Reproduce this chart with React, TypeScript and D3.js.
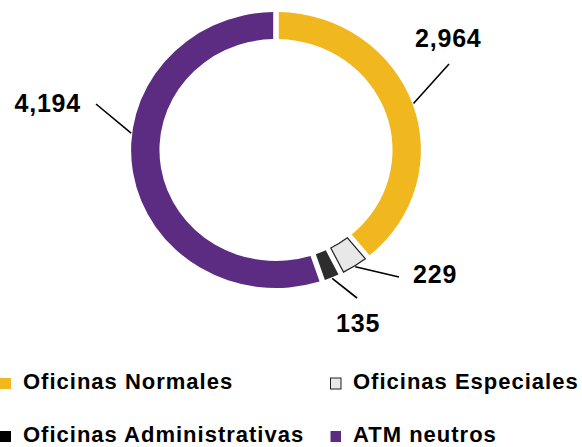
import React from "react";
import * as d3 from "d3";

const categories = ["Oficinas Normales", "Oficinas Especiales", "Oficinas Administrativas", "ATM neutros"];
const values = [2964, 229, 135, 4194];
const valueLabels = ["2,964", "229", "135", "4,194"];
const colors = ["#F0B81E", "#E8E8E8", "#2D2D2D", "#5B2C82"];
const strokes = ["none", "#222222", "none", "none"];

// label layout (annotation placement)
const labelEnds: [number, number][] = [[449, 64], [399, 277], [357, 298], [96, 104]];
const labelText: [number, number, string][] = [[415, 47, "start"], [413, 283, "start"], [336, 332, "start"], [81, 112, "end"]];
const labelAngleOverride: (number | null)[] = [null, null, null, 277];

const W = 582, H = 447;
const cx = 276, cy = 150, sx = 1.05;
const rIn = 111, rOut = 138;
const FONT = "'Liberation Sans', Arial, Helvetica, sans-serif";

export default function App() {
  const pie = d3.pie<number>().sort(null).value((d) => d).padAngle(0.03);
  const arcs = pie(values);
  const arc = d3.arc<d3.PieArcDatum<number>>().innerRadius(rIn).outerRadius(rOut);

  const legendCols = [0, 330];
  const legendRows = [389, 442];

  return (
    <svg width={W} height={H} style={{ position: "absolute", left: 0, top: 0 }} fontFamily={FONT}>
      <rect width={W} height={H} fill="#fff" />
      <g transform={`translate(${cx},${cy}) scale(${sx},1)`}>
        {arcs.map((a, i) => (
          <path
            key={i}
            d={arc(a) || ""}
            fill={colors[i]}
            stroke={strokes[i]}
            strokeWidth={1.2}
            vectorEffect="non-scaling-stroke"
          />
        ))}
      </g>
      {arcs.map((a, i) => {
        const ang = labelAngleOverride[i] != null ? ((labelAngleOverride[i] as number) * Math.PI) / 180 : (a.startAngle + a.endAngle) / 2;
        const r = rOut + 1;
        const x0 = cx + sx * r * Math.sin(ang);
        const y0 = cy - r * Math.cos(ang);
        const [x1, y1] = labelEnds[i];
        const [tx, ty, anchor] = labelText[i];
        return (
          <g key={i}>
            <line x1={x0} y1={y0} x2={x1} y2={y1} stroke="#000" strokeWidth={1.6} />
            <text x={tx} y={ty} fontSize={25} fontWeight={700} letterSpacing={0.8} textAnchor={anchor} fill="#000">
              {valueLabels[i]}
            </text>
          </g>
        );
      })}
      {categories.map((c, i) => {
        const x = legendCols[i % 2];
        const y = legendRows[Math.floor(i / 2)];
        return (
          <g key={c}>
            <rect
              x={x + (i % 2 === 0 ? 0 : 0.5)}
              y={y - 11}
              width={i % 2 === 0 ? 11 : 10.5}
              height={11}
              fill={colors[i] === "#2D2D2D" ? "#000" : colors[i]}
              stroke={strokes[i]}
              strokeWidth={1}
            />
            <text x={x + 23} y={y} fontSize={22} fontWeight={700} letterSpacing={1} fill="#000">
              {c}
            </text>
          </g>
        );
      })}
    </svg>
  );
}
